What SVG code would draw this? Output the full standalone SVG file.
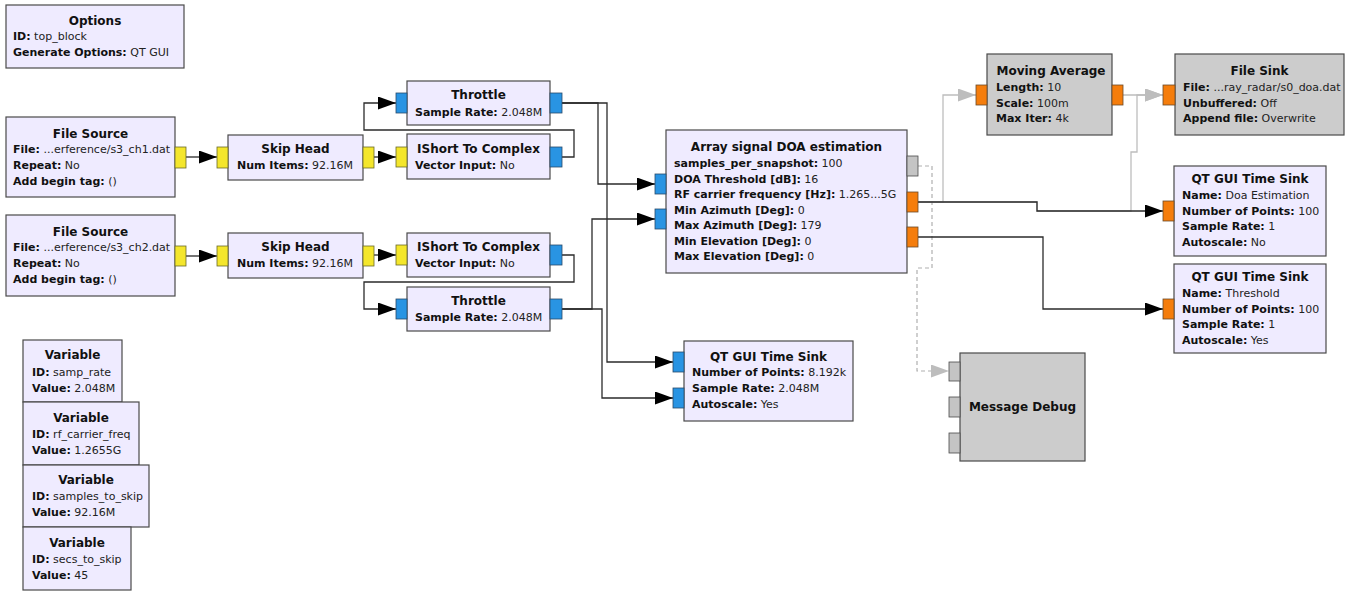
<svg xmlns="http://www.w3.org/2000/svg" width="1352" height="592" viewBox="0 0 1352 592">
<style>
.bg{fill:#ffffff}
.blk{fill:#efebff;stroke:#4a4a4a;stroke-width:1.2}
.dis{fill:#cccccc;stroke:#4a4a4a;stroke-width:1.2}
.pb{fill:#2994e3;stroke:#2a4a6a;stroke-width:0.8}
.py{fill:#f4e62c;stroke:#6a6a2a;stroke-width:0.8}
.po{fill:#f57d0c;stroke:#6a4a2a;stroke-width:0.8}
.pg{fill:#c4c4c4;stroke:#4a4a4a;stroke-width:0.8}
.t{font-family:"DejaVu Sans",sans-serif;font-size:12px;font-weight:bold;text-anchor:middle;fill:#111}
.l{font-family:"DejaVu Sans",sans-serif;font-size:11px;fill:#222}
.k{font-weight:bold;fill:#111}
.c{fill:none;stroke:#2b2b2b;stroke-width:1.3}
.cg{fill:none;stroke:#bdbdbd;stroke-width:1.3}
.cd{fill:none;stroke:#b0b0b0;stroke-width:1.2;stroke-dasharray:4 3}
</style>
<defs>
<marker id="arr" viewBox="0 0 18 13" refX="18" refY="6.5" markerWidth="18" markerHeight="13" markerUnits="userSpaceOnUse" orient="auto"><path d="M0,0 L18,6.5 L0,13 z" fill="#000"/></marker>
<marker id="arrg" viewBox="0 0 18 13" refX="18" refY="6.5" markerWidth="18" markerHeight="13" markerUnits="userSpaceOnUse" orient="auto"><path d="M0,0 L18,6.5 L0,13 z" fill="#bdbdbd"/></marker>
</defs>
<rect class="bg" x="0" y="0" width="1352" height="592"/>

<g id="connectors">
<path class="cg" d="M918,202 H1037 V211 H1131 V152 H1137 V95 H1163" marker-end="url(#arrg)"/>
<path class="cg" d="M918,202 H943 V95 H976" marker-end="url(#arrg)"/>
<path class="cg" d="M1123,95 H1163" marker-end="url(#arrg)"/>
<path class="cd" d="M918,166 H932 V268 H917 V371 H949" marker-end="url(#arrg)"/>
<path class="c" d="M186,157 H217" marker-end="url(#arr)"/>
<path class="c" d="M374,157 H396" marker-end="url(#arr)"/>
<path class="c" d="M186,256 H217" marker-end="url(#arr)"/>
<path class="c" d="M374,255 H396" marker-end="url(#arr)"/>
<path class="c" d="M562,157 H574 V130 H364 V103 H396" marker-end="url(#arr)"/>
<path class="c" d="M562,255 H574 V282 H364 V309 H396" marker-end="url(#arr)"/>
<path class="c" d="M562,103 H598 V184 H655" marker-end="url(#arr)"/>
<path class="c" d="M562,103 H607 V362 H673" marker-end="url(#arr)"/>
<path class="c" d="M562,309 H592 V219 H655" marker-end="url(#arr)"/>
<path class="c" d="M562,309 H602 V398 H673" marker-end="url(#arr)"/>
<path class="c" d="M918,202 H1037 V211 H1163" marker-end="url(#arr)"/>
<path class="c" d="M918,237 H1043 V309 H1163" marker-end="url(#arr)"/>
</g>

<g id="options">
<rect class="blk" x="6" y="5" width="178" height="63"/>
<text class="t" x="95" y="24.5">Options</text>
<text class="l" x="13" y="40"><tspan class="k">ID:</tspan> top_block</text>
<text class="l" x="13" y="56"><tspan class="k">Generate Options:</tspan> QT GUI</text>
</g>

<g id="file_source_1">
<rect class="blk" x="6" y="117" width="169" height="80"/>
<rect class="py" x="175" y="147" width="11" height="21"/>
<text class="t" x="90.5" y="137.5">File Source</text>
<text class="l" x="13" y="153"><tspan class="k">File:</tspan> ...erference/s3_ch1.dat</text>
<text class="l" x="13" y="169"><tspan class="k">Repeat:</tspan> No</text>
<text class="l" x="13" y="185"><tspan class="k">Add begin tag:</tspan> ()</text>
</g>

<g id="file_source_2">
<rect class="blk" x="6" y="215" width="169" height="81"/>
<rect class="py" x="175" y="246" width="11" height="20"/>
<text class="t" x="90.5" y="235.5">File Source</text>
<text class="l" x="13" y="251"><tspan class="k">File:</tspan> ...erference/s3_ch2.dat</text>
<text class="l" x="13" y="267"><tspan class="k">Repeat:</tspan> No</text>
<text class="l" x="13" y="283"><tspan class="k">Add begin tag:</tspan> ()</text>
</g>

<g id="skip_head_1">
<rect class="blk" x="228" y="135" width="135" height="45"/>
<rect class="py" x="217" y="147" width="11" height="21"/>
<rect class="py" x="363" y="147" width="11" height="21"/>
<text class="t" x="295.5" y="152.5">Skip Head</text>
<text class="l" x="237" y="168.5"><tspan class="k">Num Items:</tspan> 92.16M</text>
</g>

<g id="skip_head_2">
<rect class="blk" x="228" y="233" width="135" height="45"/>
<rect class="py" x="217" y="246" width="11" height="20"/>
<rect class="py" x="363" y="246" width="11" height="20"/>
<text class="t" x="295.5" y="250.5">Skip Head</text>
<text class="l" x="237" y="267"><tspan class="k">Num Items:</tspan> 92.16M</text>
</g>

<g id="throttle_1">
<rect class="blk" x="407" y="81" width="143" height="44"/>
<rect class="pb" x="396" y="93" width="11" height="20"/>
<rect class="pb" x="550" y="93" width="12" height="20"/>
<text class="t" x="478.5" y="98.5">Throttle</text>
<text class="l" x="415" y="116"><tspan class="k">Sample Rate:</tspan> 2.048M</text>
</g>

<g id="ishort_to_complex_1">
<rect class="blk" x="407" y="134" width="143" height="45"/>
<rect class="py" x="396" y="147" width="11" height="20"/>
<rect class="pb" x="550" y="147" width="12" height="20"/>
<text class="t" x="478.5" y="152.5">IShort To Complex</text>
<text class="l" x="415" y="169"><tspan class="k">Vector Input:</tspan> No</text>
</g>

<g id="ishort_to_complex_2">
<rect class="blk" x="407" y="233" width="143" height="44"/>
<rect class="py" x="396" y="245" width="11" height="20"/>
<rect class="pb" x="550" y="245" width="12" height="20"/>
<text class="t" x="478.5" y="250.5">IShort To Complex</text>
<text class="l" x="415" y="267"><tspan class="k">Vector Input:</tspan> No</text>
</g>

<g id="throttle_2">
<rect class="blk" x="407" y="287" width="143" height="44"/>
<rect class="pb" x="396" y="299" width="11" height="20"/>
<rect class="pb" x="550" y="299" width="12" height="20"/>
<text class="t" x="478.5" y="304.5">Throttle</text>
<text class="l" x="415" y="321"><tspan class="k">Sample Rate:</tspan> 2.048M</text>
</g>

<g id="doa_estimation">
<rect class="blk" x="666" y="130" width="241" height="143"/>
<rect class="pb" x="655" y="174" width="11" height="20"/>
<rect class="pb" x="655" y="209" width="11" height="20"/>
<rect class="pg" x="907" y="156" width="11" height="20"/>
<rect class="po" x="907" y="192" width="11" height="20"/>
<rect class="po" x="907" y="227" width="11" height="20"/>
<text class="t" x="786.5" y="150.5">Array signal DOA estimation</text>
<text class="l" x="674" y="167"><tspan class="k">samples_per_snapshot:</tspan> 100</text>
<text class="l" x="674" y="182.5"><tspan class="k">DOA Threshold [dB]:</tspan> 16</text>
<text class="l" x="674" y="198"><tspan class="k">RF carrier frequency [Hz]:</tspan> 1.265...5G</text>
<text class="l" x="674" y="213.5"><tspan class="k">Min Azimuth [Deg]:</tspan> 0</text>
<text class="l" x="674" y="229"><tspan class="k">Max Azimuth [Deg]:</tspan> 179</text>
<text class="l" x="674" y="244.5"><tspan class="k">Min Elevation [Deg]:</tspan> 0</text>
<text class="l" x="674" y="260"><tspan class="k">Max Elevation [Deg]:</tspan> 0</text>
</g>

<g id="qt_time_sink_iq">
<rect class="blk" x="684" y="341" width="169" height="80"/>
<rect class="pb" x="673" y="352" width="11" height="20"/>
<rect class="pb" x="673" y="388" width="11" height="20"/>
<text class="t" x="768.5" y="360.5">QT GUI Time Sink</text>
<text class="l" x="692" y="376"><tspan class="k">Number of Points:</tspan> 8.192k</text>
<text class="l" x="692" y="392"><tspan class="k">Sample Rate:</tspan> 2.048M</text>
<text class="l" x="692" y="408"><tspan class="k">Autoscale:</tspan> Yes</text>
</g>

<g id="moving_average">
<rect class="dis" x="987" y="54" width="125" height="81"/>
<rect class="po" x="976" y="85" width="11" height="20"/>
<rect class="po" x="1112" y="85" width="11" height="20"/>
<text class="t" x="1051" y="74.5">Moving Average</text>
<text class="l" x="996" y="91"><tspan class="k">Length:</tspan> 10</text>
<text class="l" x="996" y="106.5"><tspan class="k">Scale:</tspan> 100m</text>
<text class="l" x="996" y="122"><tspan class="k">Max Iter:</tspan> 4k</text>
</g>

<g id="file_sink">
<rect class="dis" x="1175" y="54" width="169" height="81"/>
<rect class="po" x="1163" y="85" width="12" height="20"/>
<text class="t" x="1259.5" y="74.5">File Sink</text>
<text class="l" x="1183" y="91"><tspan class="k">File:</tspan> ...ray_radar/s0_doa.dat</text>
<text class="l" x="1183" y="106.5"><tspan class="k">Unbuffered:</tspan> Off</text>
<text class="l" x="1183" y="122"><tspan class="k">Append file:</tspan> Overwrite</text>
</g>

<g id="qt_time_sink_doa">
<rect class="blk" x="1174" y="166" width="152" height="90"/>
<rect class="po" x="1163" y="201" width="11" height="20"/>
<text class="t" x="1250" y="182.5">QT GUI Time Sink</text>
<text class="l" x="1182" y="199"><tspan class="k">Name:</tspan> Doa Estimation</text>
<text class="l" x="1182" y="214.5"><tspan class="k">Number of Points:</tspan> 100</text>
<text class="l" x="1182" y="230"><tspan class="k">Sample Rate:</tspan> 1</text>
<text class="l" x="1182" y="245.5"><tspan class="k">Autoscale:</tspan> No</text>
</g>

<g id="qt_time_sink_threshold">
<rect class="blk" x="1174" y="264" width="152" height="89"/>
<rect class="po" x="1163" y="299" width="11" height="20"/>
<text class="t" x="1250" y="280.5">QT GUI Time Sink</text>
<text class="l" x="1182" y="297"><tspan class="k">Name:</tspan> Threshold</text>
<text class="l" x="1182" y="312.5"><tspan class="k">Number of Points:</tspan> 100</text>
<text class="l" x="1182" y="328"><tspan class="k">Sample Rate:</tspan> 1</text>
<text class="l" x="1182" y="343.5"><tspan class="k">Autoscale:</tspan> Yes</text>
</g>

<g id="message_debug">
<rect class="dis" x="960" y="353" width="125" height="108"/>
<rect class="pg" x="949" y="362" width="11" height="19"/>
<rect class="pg" x="949" y="397" width="11" height="20"/>
<rect class="pg" x="949" y="433" width="11" height="20"/>
<text class="t" x="1022.5" y="410.5">Message Debug</text>
</g>

<g id="variable_samp_rate">
<rect class="blk" x="23" y="340" width="99" height="62"/>
<text class="t" x="72.5" y="358.5">Variable</text>
<text class="l" x="32" y="376"><tspan class="k">ID:</tspan> samp_rate</text>
<text class="l" x="32" y="391.5"><tspan class="k">Value:</tspan> 2.048M</text>
</g>

<g id="variable_rf_carrier_freq">
<rect class="blk" x="23" y="402" width="116" height="63"/>
<text class="t" x="81" y="421.5">Variable</text>
<text class="l" x="32" y="438"><tspan class="k">ID:</tspan> rf_carrier_freq</text>
<text class="l" x="32" y="453.5"><tspan class="k">Value:</tspan> 1.2655G</text>
</g>

<g id="variable_samples_to_skip">
<rect class="blk" x="23" y="465" width="126" height="62"/>
<text class="t" x="86" y="483.5">Variable</text>
<text class="l" x="32" y="500"><tspan class="k">ID:</tspan> samples_to_skip</text>
<text class="l" x="32" y="515.5"><tspan class="k">Value:</tspan> 92.16M</text>
</g>

<g id="variable_secs_to_skip">
<rect class="blk" x="23" y="527" width="108" height="63"/>
<text class="t" x="77" y="546.5">Variable</text>
<text class="l" x="32" y="563"><tspan class="k">ID:</tspan> secs_to_skip</text>
<text class="l" x="32" y="578.5"><tspan class="k">Value:</tspan> 45</text>
</g>
</svg>
